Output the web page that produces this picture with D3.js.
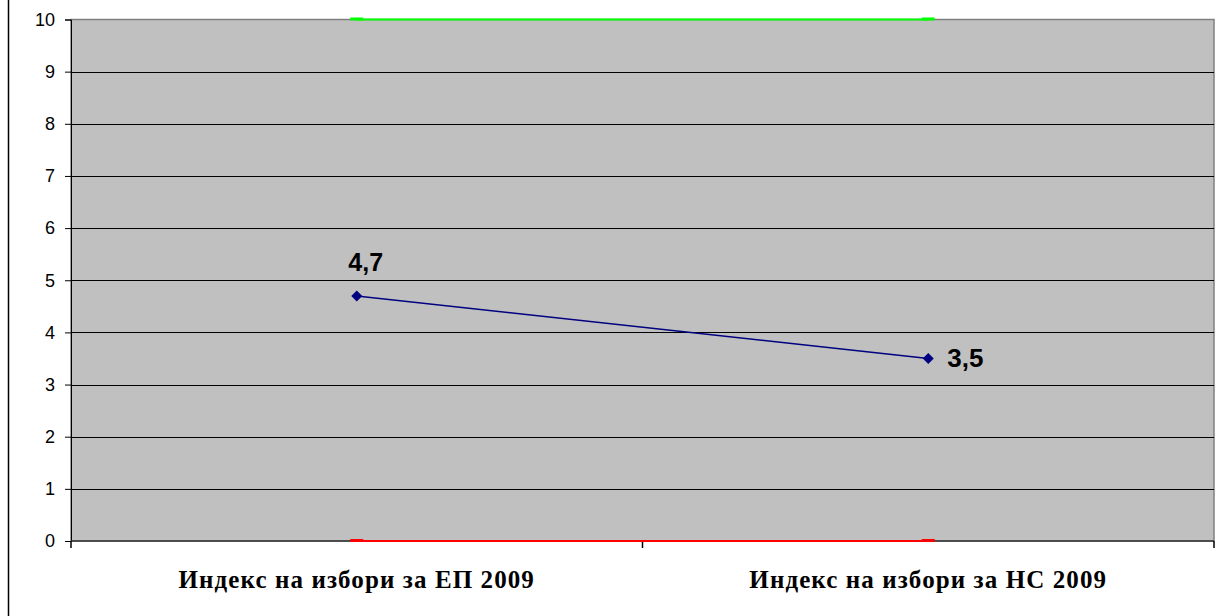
<!DOCTYPE html>
<html>
<head>
<meta charset="utf-8">
<script src="https://cdn.jsdelivr.net/npm/d3@7"></script>
<style>
  body { margin: 0; background: #fff; }
  svg { display: block; }
</style>
</head>
<body>
<div id="chart"></div>
<script>
// chart data
const categories = ["Индекс на избори за ЕП 2009", "Индекс на избори за НС 2009"];
const indexValues = [4.7, 3.5];
const indexLabels = ["4,7", "3,5"];
const maxLine = [10, 10];
const minLine = [0, 0];
const yTicks = [0, 1, 2, 3, 4, 5, 6, 7, 8, 9, 10];

const width = 1220;
const height = 616;
const margin = {left: 71, right: 6, top: 19.5, bottom: 75};

const svg = d3.select("#chart").append("svg")
    .attr("width", width)
    .attr("height", height);

// outer chart border (only left edge visible)
svg.append("line")
    .attr("x1", 8.5).attr("x2", 8.5)
    .attr("y1", 0).attr("y2", height)
    .attr("stroke", "#000").attr("stroke-width", 1.5);

const x = d3.scaleBand()
    .domain(categories)
    .range([margin.left, width - margin.right]);

const y = d3.scaleLinear()
    .domain([0, 10])
    .range([height - margin.bottom, margin.top]);

const px = c => x(c) + x.bandwidth() / 2;

// plot area
svg.append("rect")
    .attr("x", margin.left).attr("y", margin.top)
    .attr("width", width - margin.right - margin.left)
    .attr("height", y(0) - margin.top)
    .attr("fill", "#c0c0c0")
    .attr("stroke", "#808080")
    .attr("stroke-width", 1.5);

// gridlines
svg.append("g")
    .selectAll("line")
    .data(yTicks.filter(d => d > 0 && d < 10))
    .join("line")
    .attr("x1", margin.left).attr("x2", width - margin.right)
    .attr("y1", d => Math.round(y(d)) + 0.5).attr("y2", d => Math.round(y(d)) + 0.5)
    .attr("stroke", "#000");

// y axis
const yAxis = svg.append("g")
    .attr("transform", `translate(${margin.left},0)`)
    .call(d3.axisLeft(y).tickValues(yTicks).tickSize(6).tickPadding(10));
yAxis.select(".domain").attr("stroke", "#000");
yAxis.selectAll(".tick line").attr("stroke", "#000");
yAxis.selectAll("text")
    .attr("font-family", "Liberation Sans, Arial, sans-serif")
    .attr("font-size", 18)
    .attr("fill", "#000");

// x axis
svg.append("line")
    .attr("x1", margin.left).attr("x2", width - margin.right)
    .attr("y1", y(0)).attr("y2", y(0))
    .attr("stroke", "#333").attr("stroke-width", 1.5);

const xTicks = [margin.left, ...categories.map(c => x(c) + x.bandwidth())];
svg.append("g")
    .selectAll("line")
    .data(xTicks)
    .join("line")
    .attr("x1", d => d).attr("x2", d => d)
    .attr("y1", y(0)).attr("y2", y(0) + 7)
    .attr("stroke", "#000").attr("stroke-width", 1.5);

svg.append("g")
    .selectAll("text")
    .data(categories)
    .join("text")
    .attr("x", d => px(d))
    .attr("y", height - 28)
    .attr("text-anchor", "middle")
    .attr("font-family", "Liberation Serif, Times New Roman, serif")
    .attr("font-weight", "bold")
    .attr("font-size", 25)
    .attr("letter-spacing", 1.1)
    .text(d => d);

// reference lines (max and min)
const line = d3.line().x((d, i) => px(categories[i])).y(d => y(d));

[[maxLine, "#00ff00"], [minLine, "#ff0000"]].forEach(([vals, col]) => {
  svg.append("path")
      .attr("d", line(vals))
      .attr("fill", "none")
      .attr("stroke", col)
      .attr("stroke-width", 2);
  svg.append("g")
      .selectAll("rect")
      .data(vals)
      .join("rect")
      .attr("x", (d, i) => px(categories[i]) - 6.5)
      .attr("y", d => y(d) - 2)
      .attr("width", 13).attr("height", 3)
      .attr("fill", col);
});

// main series
svg.append("path")
    .attr("d", line(indexValues))
    .attr("fill", "none")
    .attr("stroke", "#000080")
    .attr("stroke-width", 1.5);

svg.append("g")
    .selectAll("path")
    .data(indexValues)
    .join("path")
    .attr("transform", (d, i) => `translate(${px(categories[i])},${y(d)})`)
    .attr("d", "M0,-5.5L5.5,0L0,5.5L-5.5,0Z")
    .attr("fill", "#000080");

// data labels
svg.append("text")
    .attr("x", px(categories[0]) + 9)
    .attr("y", y(indexValues[0]) - 25)
    .attr("text-anchor", "middle")
    .attr("font-family", "Liberation Sans, Arial, sans-serif")
    .attr("font-weight", "bold")
    .attr("font-size", 25)
    .text(indexLabels[0]);

svg.append("text")
    .attr("x", px(categories[1]) + 19)
    .attr("y", y(indexValues[1]) + 9)
    .attr("text-anchor", "start")
    .attr("font-family", "Liberation Sans, Arial, sans-serif")
    .attr("font-weight", "bold")
    .attr("font-size", 26)
    .text(indexLabels[1]);
</script>
</body>
</html>
